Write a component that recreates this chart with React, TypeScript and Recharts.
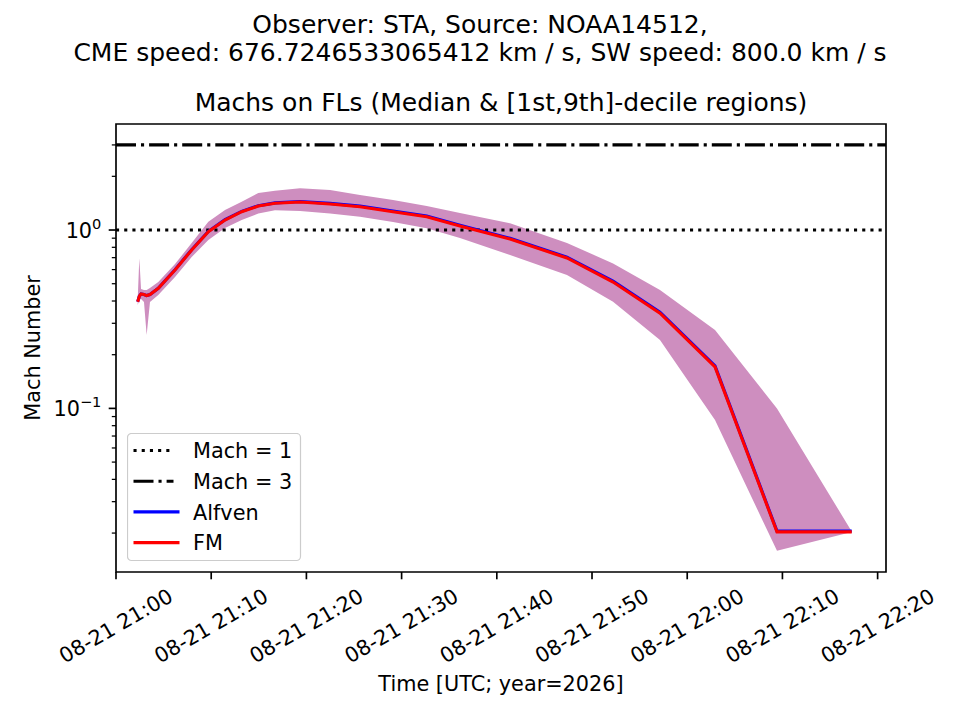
import { ComposedChart, Line, Area, XAxis, YAxis, ReferenceLine, ReferenceArea, Legend } from 'recharts'

// minutes after 08-21 21:00 UTC
const timeMin = [2.28, 2.45, 2.63, 2.94, 3.22, 3.57, 4.44, 6.2, 7.95, 9.7, 11.45, 13.2, 14.95, 16.7, 19.33, 22.48, 25.63, 29.1, 32.64, 36.13, 41.39, 47.37, 52.21, 57.14, 62.92, 69.43, 77.28]
const fmMedian = [0.396, 0.426, 0.438, 0.435, 0.429, 0.435, 0.471, 0.597, 0.773, 0.978, 1.138, 1.267, 1.363, 1.412, 1.436, 1.4, 1.351, 1.267, 1.188, 1.053, 0.89, 0.697, 0.511, 0.342, 0.171, 0.0203, 0.0203]
const alfvenMedian = [0.396, 0.426, 0.438, 0.435, 0.429, 0.435, 0.471, 0.599, 0.776, 0.982, 1.143, 1.273, 1.37, 1.42, 1.445, 1.41, 1.362, 1.278, 1.199, 1.063, 0.899, 0.705, 0.517, 0.346, 0.173, 0.0205, 0.0205]
const decileLow = [0.38, 0.405, 0.41, 0.395, 0.258, 0.395, 0.432, 0.545, 0.706, 0.879, 1.026, 1.138, 1.237, 1.29, 1.28, 1.237, 1.188, 1.109, 1.022, 0.902, 0.724, 0.559, 0.396, 0.242, 0.086, 0.0159, 0.0203]
const decileHigh = [0.41, 0.694, 0.467, 0.461, 0.461, 0.473, 0.511, 0.645, 0.845, 1.113, 1.295, 1.441, 1.613, 1.661, 1.713, 1.676, 1.572, 1.473, 1.363, 1.245, 1.09, 0.845, 0.65, 0.461, 0.275, 0.1, 0.0204]

const xTicks = [0, 10, 20, 30, 40, 50, 60, 70, 80]
const xTickLabels = ['08-21 21:00', '08-21 21:10', '08-21 21:20', '08-21 21:30', '08-21 21:40', '08-21 21:50', '08-21 22:00', '08-21 22:10', '08-21 22:20']
const yTicks = [0.02, 0.03, 0.04, 0.05, 0.06, 0.07, 0.08, 0.09, 0.1, 0.2, 0.3, 0.4, 0.5, 0.6, 0.7, 0.8, 0.9, 1, 2, 3]
const yMajorLabels: Record<string, string> = { '0.1': '\u22121', '1': '0' }

const X_DOMAIN: [number, number] = [0, 80.88]
const Y_DOMAIN: [number, number] = [0.0121, 3.93]
const FONT = '"DejaVu Sans", sans-serif'
const BAND = '#ce8ebf'

const data = timeMin.map((t, i) => ({
  t,
  fm: fmMedian[i],
  alfven: alfvenMedian[i],
  band: [decileLow[i], decileHigh[i]],
}))

const legendItems = [
  { label: 'Mach = 1', color: '#000', dash: '3.1 5.1', len: 40 },
  { label: 'Mach = 3', color: '#000', dash: '20 5 3.1 5', len: 40 },
  { label: 'Alfven', color: '#0000ff', dash: undefined, len: 46 },
  { label: 'FM', color: '#ff0000', dash: undefined, len: 46 },
]

function XTick({ x, y, payload }: any) {
  const label = xTickLabels[xTicks.indexOf(payload.value)]
  const cy = y + 54
  return (
    <g>
      <line x1={x} x2={x} y1={y} y2={y + 7.3} stroke="#000" strokeWidth={1.67} />
      <text x={x} y={cy} textAnchor="middle" dominantBaseline="central" fontSize={20.8} fontFamily={FONT} fill="#000"
        transform={`rotate(-30, ${x}, ${cy})`}>
        {label}
      </text>
    </g>
  )
}

function YTick({ x, y, payload }: any) {
  const exp = yMajorLabels[String(payload.value)]
  const major = exp !== undefined
  return (
    <g>
      <line x1={x - (major ? 7.3 : 4.2)} x2={x} y1={y} y2={y} stroke="#000" strokeWidth={major ? 1.67 : 1.25} />
      {major && (
        <text x={x - 14.6} y={y + 7.6} textAnchor="end" fontSize={20.8} fontFamily={FONT} fill="#000">
          10<tspan dy={-8.5} fontSize={14.6}>{exp}</tspan>
        </text>
      )}
    </g>
  )
}

function LegendBox() {
  return (
    <svg width={175} height={129} style={{ display: 'block' }}>
      <rect x={0.5} y={0.5} width={173} height={127} rx={4} fill="#fff" fillOpacity={0.8} stroke="#cccccc" strokeWidth={1.2} />
      {legendItems.map((it, i) => {
        const cy = 17.5 + i * 30.7
        return (
          <g key={it.label}>
            <line x1={6.5} x2={6.5 + it.len} y1={cy} y2={cy} stroke={it.color} strokeWidth={3.1} strokeDasharray={it.dash} />
            <text x={66} y={cy + 7.6} fontSize={20.8} fontFamily={FONT} fill="#000">{it.label}</text>
          </g>
        )
      })}
    </svg>
  )
}

export default function App() {
  return (
    <div style={{ position: 'absolute', left: 0, top: 0, width: 960, height: 720, background: '#fff' }}>
      <ComposedChart width={960} height={720} data={data} margin={{ top: 124, right: 74, bottom: 0, left: 0 }}>
        <XAxis dataKey="t" type="number" domain={X_DOMAIN} ticks={xTicks} interval={0} height={148}
          axisLine={false} tickLine={false} tickSize={0} tickMargin={0} tick={<XTick />} allowDataOverflow />
        <YAxis type="number" scale="log" domain={Y_DOMAIN} ticks={yTicks} interval={0} width={116}
          axisLine={false} tickLine={false} tickSize={0} tickMargin={0} tick={<YTick />} allowDataOverflow />
        <Area dataKey="band" type="linear" fill={BAND} fillOpacity={1} stroke="none" isAnimationActive={false} />
        <ReferenceLine y={1} stroke="#000" strokeWidth={3.1} strokeDasharray="3.1 5.1" />
        <ReferenceLine y={3} stroke="#000" strokeWidth={3.1} strokeDasharray="20 5 3.1 5" />
        <Line dataKey="alfven" type="linear" stroke="#0000ff" strokeWidth={3.1} dot={false} isAnimationActive={false} />
        <Line dataKey="fm" type="linear" stroke="#ff0000" strokeWidth={3.1} dot={false} isAnimationActive={false} />
        <ReferenceArea x1={X_DOMAIN[0]} x2={X_DOMAIN[1]} y1={Y_DOMAIN[0]} y2={Y_DOMAIN[1]} fill="none" fillOpacity={0}
          stroke="#000" strokeWidth={1.67} />
        <Legend layout="vertical" align="center" verticalAlign="middle" content={() => <LegendBox />}
          wrapperStyle={{ left: 127, top: 433, width: 175, height: 129 }} />
      </ComposedChart>
      <svg width={960} height={720} style={{ position: 'absolute', left: 0, top: 0, pointerEvents: 'none' }}
        fontFamily={FONT} fill="#000">
        <text x={480} y={33} textAnchor="middle" fontSize={25}>Observer: STA, Source: NOAA14512,</text>
        <text x={480} y={61} textAnchor="middle" fontSize={25}>CME speed: 676.7246533065412 km / s, SW speed: 800.0 km / s</text>
        <text x={501} y={111} textAnchor="middle" fontSize={25}>Machs on FLs (Median &amp; [1st,9th]-decile regions)</text>
        <text x={40} y={348} textAnchor="middle" fontSize={20.8} transform="rotate(-90, 40, 348)">Mach Number</text>
        <text x={501} y={691} textAnchor="middle" fontSize={20.8}>Time [UTC; year=2026]</text>
      </svg>
    </div>
  )
}
